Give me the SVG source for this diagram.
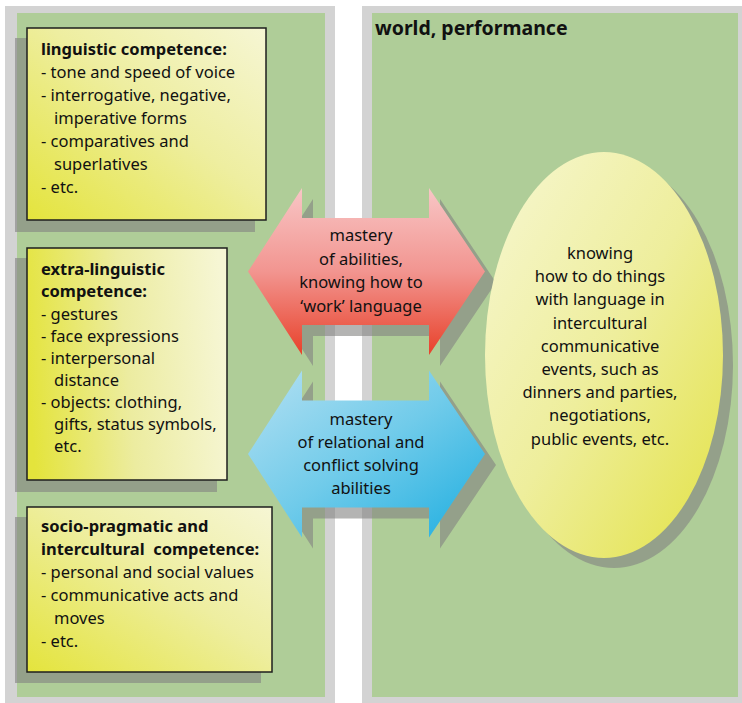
<svg xmlns="http://www.w3.org/2000/svg" width="742" height="703" viewBox="0 0 742 703">
<style>
.frame{fill:#d3d3d3}
.panel{fill:#afcd98}
.sh{fill:#828280;fill-opacity:0.6}
.box{stroke:#1e1e1e;stroke-width:1.5}
.t{font-family:"Noto Sans","Open Sans",sans-serif;font-size:16.5px;fill:#111}
.b{font-weight:bold}
.c{text-anchor:middle}
.title{font-family:"Noto Sans","Open Sans",sans-serif;font-size:19.5px;font-weight:bold;fill:#111}
</style>
<defs>
<linearGradient id="gBox" x1="0" y1="1" x2="1" y2="0">
<stop offset="0" stop-color="#e4e43c"/>
<stop offset="0.55" stop-color="#eeeea0"/>
<stop offset="1" stop-color="#f6f6d4"/>
</linearGradient>
<linearGradient id="gBox2" x1="0" y1="0.55" x2="1" y2="0.45">
<stop offset="0" stop-color="#e4e43c"/>
<stop offset="0.5" stop-color="#ececa0"/>
<stop offset="1" stop-color="#f6f6d4"/>
</linearGradient>
<linearGradient id="gEll" x1="0" y1="0" x2="1" y2="1">
<stop offset="0" stop-color="#f7f7d2"/>
<stop offset="0.5" stop-color="#eeee9c"/>
<stop offset="1" stop-color="#e3e245"/>
</linearGradient>
<linearGradient id="gRed" x1="0" y1="0" x2="0" y2="1">
<stop offset="0" stop-color="#f8c6c6"/>
<stop offset="0.5" stop-color="#f29590"/>
<stop offset="1" stop-color="#e8412a"/>
</linearGradient>
<linearGradient id="gBlue" x1="0" y1="0" x2="1" y2="1">
<stop offset="0" stop-color="#b4e0f2"/>
<stop offset="0.5" stop-color="#70cbea"/>
<stop offset="1" stop-color="#1eaee0"/>
</linearGradient>
<path id="arrowRed" d="M248,271.5 L302,188 L302,218 L429,218 L429,188 L485,271.5 L429,355 L429,325 L302,325 L302,355 Z"/>
<path id="arrowBlue" d="M248,454 L302,370.5 L302,400.5 L429,400.5 L429,370.5 L485,454 L429,537.5 L429,507.5 L302,507.5 L302,537.5 Z"/>
</defs>

<g id="panel-left">
<rect class="frame" x="5" y="6" width="330" height="697"/>
<rect class="panel" x="17" y="13" width="308" height="684"/>
</g>
<g id="panel-right">
<rect class="frame" x="362" y="6" width="380" height="697"/>
<rect class="panel" x="372" y="13" width="366" height="684"/>
<text class="title" x="375" y="35">world, performance</text>
</g>

<g id="linguistic">
<rect class="sh" x="15" y="38" width="240" height="194"/>
<rect class="box" x="27" y="28" width="239" height="192" fill="url(#gBox)"/>
<text class="t b" x="41" y="55">linguistic competence:</text>
<text class="t" x="41" y="78">- tone and speed of voice</text>
<text class="t" x="41" y="101">- interrogative, negative,</text>
<text class="t" x="54" y="124">imperative forms</text>
<text class="t" x="41" y="147">- comparatives and</text>
<text class="t" x="54" y="170">superlatives</text>
<text class="t" x="41" y="193">- etc.</text>
</g>

<g id="extra-linguistic">
<rect class="sh" x="15" y="258" width="202" height="234"/>
<rect class="box" x="27" y="248" width="200" height="232" fill="url(#gBox2)"/>
<text class="t b" x="41" y="275">extra-linguistic</text>
<text class="t b" x="41" y="297">competence:</text>
<text class="t" x="41" y="320">- gestures</text>
<text class="t" x="41" y="342">- face expressions</text>
<text class="t" x="41" y="364">- interpersonal</text>
<text class="t" x="54" y="386">distance</text>
<text class="t" x="41" y="408">- objects: clothing,</text>
<text class="t" x="54" y="430">gifts, status symbols,</text>
<text class="t" x="54" y="452">etc.</text>
</g>

<g id="socio-pragmatic">
<rect class="sh" x="15" y="517" width="246" height="166"/>
<rect class="box" x="27" y="507" width="245" height="165" fill="url(#gBox)"/>
<text class="t b" x="41" y="532">socio-pragmatic and</text>
<text class="t b" x="41" y="555" style="white-space:pre">intercultural  competence:</text>
<text class="t" x="41" y="578">- personal and social values</text>
<text class="t" x="41" y="601">- communicative acts and</text>
<text class="t" x="54" y="624">moves</text>
<text class="t" x="41" y="647">- etc.</text>
</g>

<g id="connectors">
<use href="#arrowRed" class="sh" transform="translate(11,11)"/>
<use href="#arrowBlue" class="sh" transform="translate(11,11)"/>
<g id="arrow-abilities">
<use href="#arrowRed" fill="url(#gRed)"/>
<text class="t c" x="361" y="241">mastery</text>
<text class="t c" x="361" y="265">of abilities,</text>
<text class="t c" x="361" y="288">knowing how to</text>
<text class="t c" x="361" y="312">‘work’ language</text>
</g>
<g id="arrow-relational">
<use href="#arrowBlue" fill="url(#gBlue)"/>
<text class="t c" x="361" y="425">mastery</text>
<text class="t c" x="361" y="448">of relational and</text>
<text class="t c" x="361" y="471">conflict solving</text>
<text class="t c" x="361" y="494">abilities</text>
</g>
</g>

<g id="world-events">
<ellipse class="sh" cx="614" cy="365" rx="119" ry="203"/>
<ellipse cx="604" cy="355" rx="119" ry="203" fill="url(#gEll)"/>
<text class="t c" x="600" y="259">knowing</text>
<text class="t c" x="600" y="282">how to do things</text>
<text class="t c" x="600" y="305">with language in</text>
<text class="t c" x="600" y="329">intercultural</text>
<text class="t c" x="600" y="352">communicative</text>
<text class="t c" x="600" y="375">events, such as</text>
<text class="t c" x="600" y="398">dinners and parties,</text>
<text class="t c" x="600" y="421">negotiations,</text>
<text class="t c" x="600" y="445">public events, etc.</text>
</g>
</svg>
